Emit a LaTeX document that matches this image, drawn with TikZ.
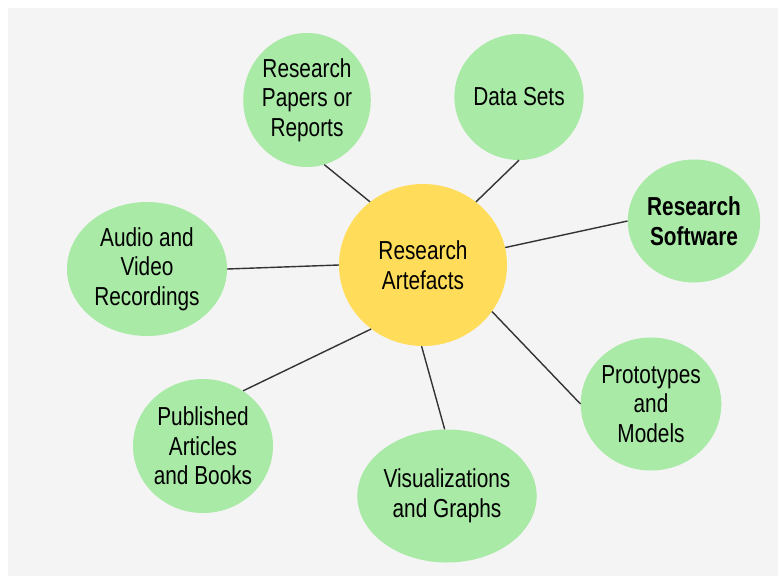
\documentclass[tikz,border=0pt]{standalone}
\usepackage{fontspec}
\setmainfont{Liberation Sans}[FakeStretch=0.8]
\usetikzlibrary{shapes.geometric}
\definecolor{bggray}{HTML}{F4F4F4}
\definecolor{leaf}{HTML}{A9EAA6}
\definecolor{hub}{HTML}{FFDD5A}
\definecolor{linec}{HTML}{333333}
\tikzset{
  bubble/.style={ellipse, fill=leaf, draw=none, inner sep=0pt, align=center,
    font=\fontsize{26}{29.5}\selectfont, text=black},
  hubnode/.style={bubble, fill=hub},
  link/.style={draw=linec, line width=1.4pt}
}
\begin{document}
\begin{tikzpicture}[x=1pt,y=-1pt]
\useasboundingbox (0,0) rectangle (778,576);
\fill[white] (0,0) rectangle (778,576);
\fill[bggray] (8,8) rectangle (778,576);

\node[hubnode, minimum width=168pt, minimum height=162pt] (c) at (423,265) {Research\\Artefacts};
\node[bubble, minimum width=125pt, minimum height=134pt] (papers) at (307,100) {Research\\Papers or\\Reports};
\node[bubble, minimum width=128pt, minimum height=126pt] (data) at (519,97) {Data Sets};
\node[bubble, minimum width=126pt, minimum height=123pt, font=\fontsize{26}{29.5}\selectfont\bfseries] (soft) at (694,221) {Research\\Software};
\node[bubble, minimum width=160pt, minimum height=134pt] (audio) at (147,269) {Audio and\\Video\\Recordings};
\node[bubble, minimum width=140pt, minimum height=134pt] (pub) at (203,446) {Published\\Articles\\and Books};
\node[bubble, minimum width=179pt, minimum height=133pt] (vis) at (447,496) {Visualizations\\and Graphs};
\node[bubble, minimum width=138pt, minimum height=133pt] (proto) at (651,404) {Prototypes\\and\\Models};

\draw[link] (c.130) -- (papers.285);
\draw[link] (c.50) -- (data.270);
\draw[link] (c.12) -- (soft.180);
\draw[link] (c.180) -- (audio.0);
\draw[link] (c.231) -- (pub.54);
\draw[link] (c.269) -- (vis.92);
\draw[link] (c.326) -- (proto.180);
\end{tikzpicture}
\end{document}
